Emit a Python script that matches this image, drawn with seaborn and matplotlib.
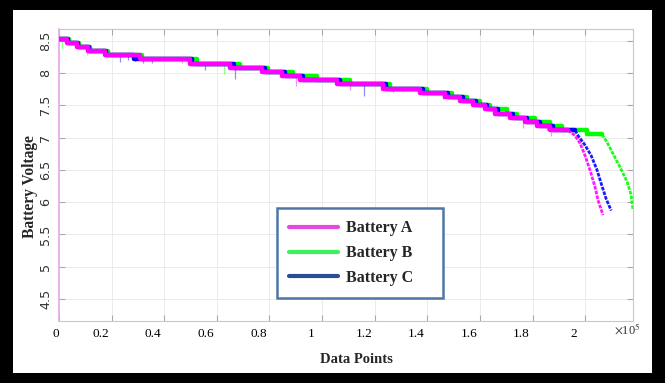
import numpy as np
import pandas as pd
import matplotlib
matplotlib.use("Agg")
import matplotlib.pyplot as plt
import matplotlib.transforms as mtransforms
from matplotlib.lines import Line2D
from matplotlib.patches import Rectangle
import seaborn as sns

# ---------------- data ----------------
# quantised voltage plateaus (V), last value repeats the final plateau
levels_A = [8.530, 8.466, 8.401, 8.337, 8.272, 8.208, 8.143, 8.079, 8.014, 7.950,
            7.885, 7.821, 7.756, 7.692, 7.627, 7.563, 7.498, 7.434, 7.369, 7.305,
            7.240, 7.176, 7.111, 7.111]
levels_B = [8.530, 8.466, 8.401, 8.337, 8.272, 8.208, 8.143, 8.079, 8.014, 7.950,
            7.885, 7.821, 7.756, 7.692, 7.627, 7.563, 7.498, 7.434, 7.369, 7.305,
            7.240, 7.176, 7.111, 7.047, 7.047]
levels_C = [8.530, 8.466, 8.401, 8.337, 8.272, 8.208, 8.143, 8.079, 8.014, 7.950,
            7.885, 7.821, 7.756, 7.692, 7.627, 7.563, 7.498, 7.434, 7.369, 7.305,
            7.240, 7.176, 7.111, 7.111]

# data point index where each plateau starts
steps_A = [0, 3000, 6800, 11000, 17500, 30800, 49800, 65000, 77200, 84800, 91600,
           105700, 123200, 137300, 146800, 152500, 157400, 162000, 165800, 171500,
           177200, 181700, 186700, 193500]
steps_B = [0, 3800, 7600, 11800, 18600, 31600, 52500, 68800, 79500, 89000, 98100,
           110600, 125800, 139900, 149400, 155100, 160100, 163900, 170300, 174100,
           181000, 186700, 191200, 200700, 206400]
steps_C = [0, 3400, 7200, 11400, 17900, 28500, 50600, 66500, 78300, 85900, 92800,
           106800, 124300, 138400, 147900, 153600, 158500, 162700, 166900, 172600,
           177900, 182900, 187800, 196200]

# final discharge knee
tail_A_x = [193500, 196200, 198100, 200000, 201900, 203800, 204900, 206800]
tail_A_v = [7.111, 7.03, 6.91, 6.72, 6.49, 6.23, 6.03, 5.80]
tail_B_x = [206400, 208300, 210600, 213300, 216000, 217500, 218200]
tail_B_v = [7.047, 6.93, 6.75, 6.54, 6.31, 6.11, 5.88]
tail_C_x = [196200, 197300, 200000, 202300, 204500, 206400, 208000, 209900]
tail_C_v = [7.111, 7.03, 6.88, 6.72, 6.50, 6.25, 6.05, 5.87]

# short measurement glitches (downward spikes)
spike_A_x = [46800, 90100, 110600, 137700, 154400, 176400, 187100]
spike_A_top = [8.208, 7.950, 7.885, 7.756, 7.627, 7.240, 7.176]
spike_A_low = [8.15, 7.80, 7.74, 7.70, 7.55, 7.14, 7.03]
spike_B_x = [1100, 10600, 62700, 130800, 181000]
spike_B_top = [8.530, 8.401, 8.143, 7.756, 7.240]
spike_B_low = [8.37, 8.28, 7.99, 7.70, 7.18]
spike_C_x = [23200, 26300, 29000, 32000, 35500, 55500, 66900, 116000, 127000, 137300, 146000, 185500]
spike_C_top = [8.272, 8.272, 8.272, 8.208, 8.208, 8.143, 8.143, 7.821, 7.756, 7.756, 7.692, 7.240]
spike_C_low = [8.17, 8.20, 8.19, 8.15, 8.16, 8.04, 7.91, 7.65, 7.70, 7.69, 7.60, 7.12]

series_names = ["Battery A", "Battery B", "Battery C"]
line_colors = ["#FF00FF", "#00FF00", "#0000FF"]
legend_colors = ["#E648DC", "#3CF060", "#2B4C96"]

x_ticks = [0, 20000, 40000, 60000, 80000, 100000, 120000, 140000, 160000, 180000, 200000]
x_ticklabels = ["0", "0.2", "0.4", "0.6", "0.8", "1", "1.2", "1.4", "1.6", "1.8", "2"]
y_ticks = [4.5, 5, 5.5, 6, 6.5, 7, 7.5, 8, 8.5]
y_ticklabels = ["4.5", "5", "5.5", "6", "6.5", "7", "7.5", "8", "8.5"]

# ---------------- figure ----------------
sns.set_style("white")
plt.rcParams["mathtext.fontset"] = "stix"

W, H = 665, 383
fig = plt.figure(figsize=(W / 100, H / 100), dpi=100)
fig.patch.set_facecolor("black")
fig.add_artist(Rectangle((13 / W, 10 / H), (652 - 13) / W, (373 - 10) / H,
                         transform=fig.transFigure, facecolor="white",
                         edgecolor="none", zorder=-5))

ax = fig.add_axes([59 / W, (H - 321) / H, (633 - 59) / W, (321 - 29) / H])
ax.set_facecolor("white")

steps = {"Battery A": (steps_A, levels_A), "Battery B": (steps_B, levels_B),
         "Battery C": (steps_C, levels_C)}
tails = {"Battery A": (tail_A_x, tail_A_v), "Battery B": (tail_B_x, tail_B_v),
         "Battery C": (tail_C_x, tail_C_v)}
spikes = {"Battery A": (spike_A_x, spike_A_top, spike_A_low),
          "Battery B": (spike_B_x, spike_B_top, spike_B_low),
          "Battery C": (spike_C_x, spike_C_top, spike_C_low)}
zorders = {"Battery B": 2, "Battery C": 3, "Battery A": 4}
colors = dict(zip(series_names, line_colors))

for name in ["Battery B", "Battery C", "Battery A"]:
    sx, sv = steps[name]
    df = pd.DataFrame({"Data Points": sx, "Battery Voltage": sv})
    sns.lineplot(data=df, x="Data Points", y="Battery Voltage", ax=ax,
                 color=colors[name], linewidth=3.2, drawstyle="steps-post",
                 sort=False, estimator=None, zorder=zorders[name])
    tx, tv = tails[name]
    dft = pd.DataFrame({"Data Points": tx, "Battery Voltage": tv})
    sns.lineplot(data=dft, x="Data Points", y="Battery Voltage", ax=ax,
                 color=colors[name], linewidth=2.0, sort=False, estimator=None,
                 linestyle=(0, (1.3, 0.45)), alpha=0.9, zorder=zorders[name])
    kx, ktop, klow = spikes[name]
    ax.vlines(kx, klow, ktop, colors=colors[name], linewidth=0.9, alpha=0.45,
              zorder=1)

ax.set_xlim(0, 218200)
ax.set_ylim(4.16, 8.68)

# grid & box
ax.grid(True, color="#EBEBEB", linewidth=0.7)
ax.set_axisbelow(True)
for s in ["top", "right", "bottom"]:
    ax.spines[s].set_visible(True)
    ax.spines[s].set_color("#C8C8C8")
    ax.spines[s].set_linewidth(0.8)
ax.spines["left"].set_color("#E8A6EE")
ax.spines["left"].set_linewidth(1.2)

ax.set_xticks(x_ticks)
ax.set_xticklabels(x_ticklabels, family="Liberation Serif", fontsize=9.5, color="black")
ax.set_yticks(y_ticks)
ax.set_yticklabels(y_ticklabels, family="DejaVu Sans", fontsize=9.2, color="#333333",
                   rotation=90, va="center")
ax.tick_params(axis="both", which="both", direction="in", length=4, color="#A8A8A8",
               top=True, right=True, left=True, bottom=True)
ax.tick_params(axis="x", pad=5)
ax.tick_params(axis="y", pad=5)

for i, lab in enumerate(ax.get_xticklabels()):
    dx = -3 if i == 0 else -11
    lab.set_transform(lab.get_transform() +
                      mtransforms.ScaledTranslation(dx / 100, 0, fig.dpi_scale_trans))

ax.text(0.99, -0.032, r"$\times$10$^5$", transform=ax.transAxes, ha="center",
        va="center", fontsize=9, family="Liberation Serif", color="#333333")

ax.set_xlabel("Data Points", family="Liberation Serif", fontweight="bold", fontsize=10.5)
ax.set_ylabel("Battery Voltage", family="Liberation Serif", fontweight="bold", fontsize=11.2)
ax.xaxis.set_label_coords((356 - 59) / 574, (321 - 353) / 292)
ax.yaxis.set_label_coords((38 - 59) / 574, (321 - 187) / 292)

handles = [Line2D([0], [0], color=c, linewidth=3) for c in legend_colors]
leg = ax.legend(handles, series_names, loc="lower left",
                bbox_to_anchor=((277 - 59) / 574, (321 - 298) / 292, 166 / 574, 88 / 292),
                mode="expand", borderaxespad=0, fancybox=False, framealpha=1,
                prop={"family": "Liberation Serif", "weight": "bold", "size": 11.5},
                handlelength=3.1, handletextpad=0.5, labelspacing=0.55, borderpad=0.75)
leg.get_frame().set_edgecolor("#4F76A6")
leg.get_frame().set_linewidth(1.8)
leg.set_zorder(10)

fig.savefig("out.png", dpi=100, facecolor=fig.get_facecolor())
